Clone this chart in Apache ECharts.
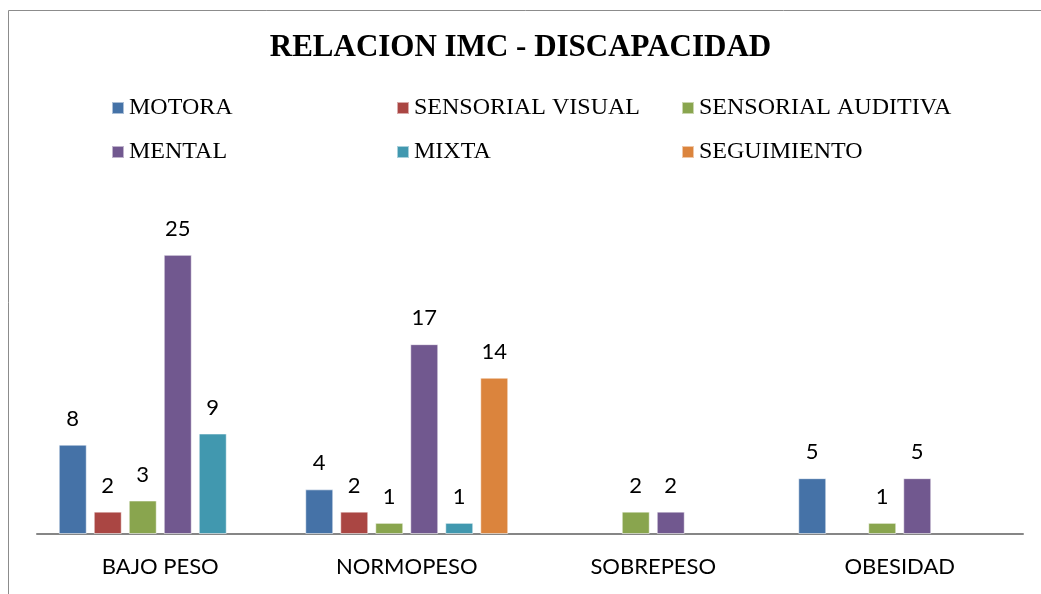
<!DOCTYPE html>
<html>
<head>
<meta charset="utf-8">
<title>RELACION IMC - DISCAPACIDAD</title>
<script src="https://cdn.jsdelivr.net/npm/echarts@6/dist/echarts.min.js"></script>
<style>
    html, body { margin: 0; padding: 0; background: #fff; }
    #chart { width: 1041px; height: 594px; }
</style>
</head>
<body>
<div id="chart"></div>
<script>
    // categorias del eje x
    var categorias = ['BAJO PESO', 'NORMOPESO', 'SOBREPESO', 'OBESIDAD'];
    // una serie por tipo de discapacidad (null = sin barra)
    var motora = [8, 4, null, 5];
    var sensorialVisual = [2, 2, null, null];
    var sensorialAuditiva = [3, 1, 2, 1];
    var mental = [25, 17, 2, 5];
    var mixta = [9, 1, null, null];
    var seguimiento = [null, 14, null, null];

    var nombres = ['MOTORA', 'SENSORIAL VISUAL', 'SENSORIAL AUDITIVA', 'MENTAL', 'MIXTA', 'SEGUIMIENTO'];
    var valores = [motora, sensorialVisual, sensorialAuditiva, mental, mixta, seguimiento];
    var colores = ['#4572A7', '#AA4643', '#89A54E', '#71588F', '#4198AF', '#DB843D'];

    var serif = 'Liberation Serif';
    var sans = 'Lato';

    // leyenda en 2 filas x 3 columnas
    var legendPos = [
        [111, 96], [396, 96], [681, 96],
        [111, 140], [396, 140], [681, 140]
    ];
    var legends = [];
    nombres.forEach(function(n, k) {
        legends.push({
            data: [n],
            left: legendPos[k][0],
            top: legendPos[k][1],
            padding: 0,
            icon: 'rect',
            itemWidth: 12,
            itemHeight: 12,
            selectedMode: false,
            textStyle: { fontFamily: serif, fontSize: 24, color: '#000' }
        });
    });

    var series = [];
    nombres.forEach(function(n, k) {
        series.push({
            name: n,
            type: 'bar',
            barWidth: 28,
            barGap: '25%',
            data: valores[k],
            itemStyle: {
                color: colores[k],
                borderColor: 'rgba(255,255,255,0.55)',
                borderWidth: 1
            },
            label: {
                show: true,
                position: 'top',
                distance: 15,
                fontFamily: sans,
                fontSize: 22,
                color: '#000'
            }
        });
    });

    echarts.init(document.getElementById('chart'), null, { renderer: 'canvas' }).setOption({
        animation: false,
        backgroundColor: '#fff',
        textStyle: { fontFamily: sans },
        title: {
            text: 'RELACION IMC - DISCAPACIDAD',
            left: 'center',
            top: 32,
            padding: 0,
            textStyle: { fontFamily: serif, fontWeight: 'bold', fontSize: 31, color: '#000' }
        },
        legend: legends,
        grid: { left: 37, right: 18, top: 199, bottom: 60 },
        xAxis: {
            type: 'category',
            data: categorias,
            axisLine: { lineStyle: { color: '#868686', width: 2 } },
            axisTick: { show: false },
            axisLabel: { fontFamily: sans, fontSize: 22, color: '#000', margin: 22 }
        },
        yAxis: {
            type: 'value',
            min: 0,
            max: 30,
            show: false,
            splitLine: { show: false }
        },
        // marco exterior del grafico
        graphic: [{
            type: 'rect',
            shape: { x: 8.5, y: 10.5, width: 1100, height: 700 },
            style: { fill: 'none', stroke: '#8c8c8c', lineWidth: 1 },
            silent: true
        }],
        series: series
    });
</script>
</body>
</html>
